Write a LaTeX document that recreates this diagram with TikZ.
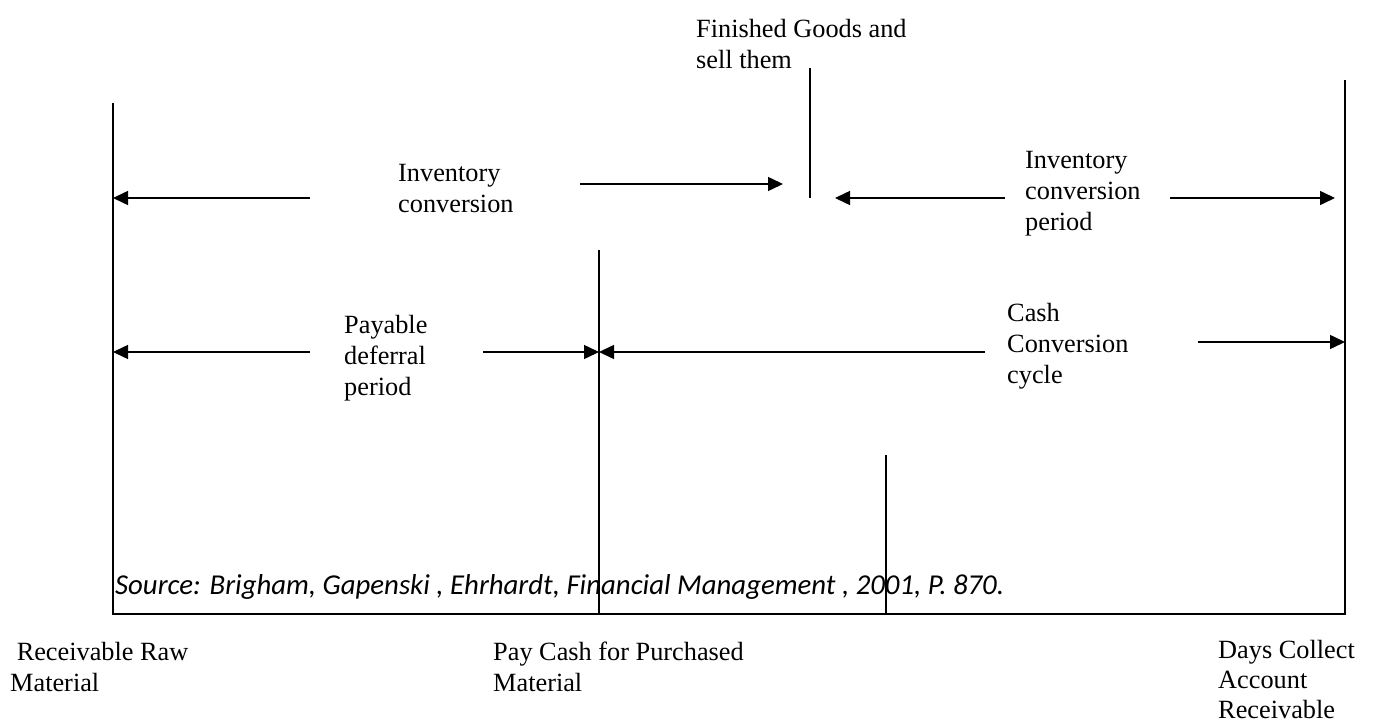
\documentclass[tikz,border=0pt]{standalone}
\usepackage{fontspec}
\setmainfont{Liberation Serif}
\newfontfamily\srcfont{Carlito}
\usetikzlibrary{arrows.meta}
\begin{document}
\begin{tikzpicture}[x=1pt,y=-1pt,
  lbl/.style={anchor=base west,inner sep=0pt,align=left,font=\fontsize{26.3}{31}\selectfont},
  lbltight/.style={anchor=base west,inner sep=0pt,align=left,font=\fontsize{26.3}{30}\selectfont},
  src/.style={anchor=base west,inner sep=0pt,font=\srcfont\itshape\fontsize{28.8}{33}\selectfont},
  rule/.style={line width=1.5pt},
  arr/.style={line width=1.5pt,-{Triangle[length=15pt,width=14pt]}}]
\useasboundingbox (0,0) rectangle (1373,722);
% frame lines
\coordinate (lt) at (113,103);
\coordinate (lb) at (113,614);
\coordinate (rt) at (1345,80);
\coordinate (rb) at (1345,614);
\coordinate (ft) at (810,68);
\coordinate (fb) at (810,198);
\coordinate (mt) at (599,250);
\coordinate (mb) at (599,614);
\coordinate (ct) at (886,455);
\coordinate (cb) at (886,614);
\draw[rule] (lt) -- (lb) -- (rb) -- (rt);
\draw[rule] (ft) -- (fb);
\draw[rule] (mt) -- (mb);
\draw[rule] (ct) -- (cb);
% texts (anchor = baseline of the last line)
\node[lbl] (fg) at (696,69) {Finished Goods and\\sell them};
\node[lbl] (ic) at (398,212) {Inventory\\conversion};
\node[lbl] (icp) at (1025,230) {Inventory\\conversion\\period};
\node[lbl] (pdp) at (344,395) {Payable\\deferral\\period};
\node[lbl] (ccc) at (1007,383) {Cash\\Conversion\\cycle};
\node[src] (srcn) at (115,594) {Source: Brigham, Gapenski , Ehrhardt, Financial Management , 2001, P. 870.};
\node[lbl] (rrm) at (10,691) {\ Receivable Raw\\Material};
\node[lbl] (pcm) at (493,691) {Pay Cash for Purchased\\Material};
\node[lbltight] (dca) at (1218,718) {Days Collect\\Account\\Receivable};
% arrow end points
\coordinate (a1s) at (310,198); \coordinate (a1e) at (113,198);
\coordinate (a2s) at (580,184); \coordinate (a2e) at (783,184);
\coordinate (a3s) at (1005,198); \coordinate (a3e) at (835,198);
\coordinate (a4s) at (1170,198); \coordinate (a4e) at (1335,198);
\coordinate (a5s) at (310,352); \coordinate (a5e) at (113,352);
\coordinate (a6s) at (483,352); \coordinate (a6e) at (599,352);
\coordinate (a7s) at (985,352); \coordinate (a7e) at (599,352);
\coordinate (a8s) at (1198,342); \coordinate (a8e) at (1345,342);
\draw[arr] (a1s) -- (a1e);
\draw[arr] (a2s) -- (a2e);
\draw[arr] (a3s) -- (a3e);
\draw[arr] (a4s) -- (a4e);
\draw[arr] (a5s) -- (a5e);
\draw[arr] (a6s) -- (a6e);
\draw[arr] (a7s) -- (a7e);
\draw[arr] (a8s) -- (a8e);
\end{tikzpicture}
\end{document}
